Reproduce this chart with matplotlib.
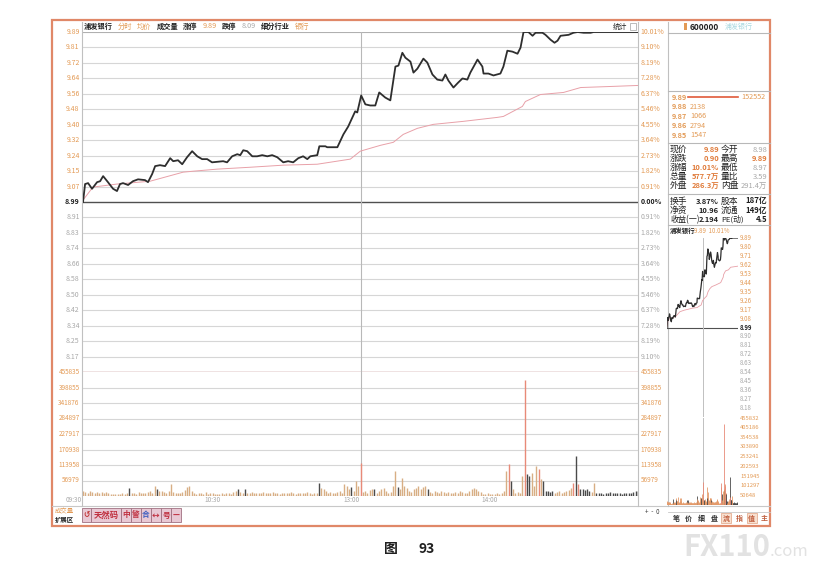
import numpy as np
import matplotlib.pyplot as plt
import matplotlib.patches as patches

plt.rcParams['font.family'] = ['Noto Sans CJK SC', 'DejaVu Sans']

W, H = 822, 567

# ---------------- data ----------------
prev_close = 8.99
limit_up = 9.89
limit_down = 8.09

# price line vertices (minute from 09:30, price)
price_min = [0, 0.9, 2.2, 3.9, 6.1, 7.4, 8.7, 10.8, 13, 14.7, 16, 17.3, 19.5, 21.6, 23.8, 26.8,
             28.1, 29.9, 31.2, 33.3, 35.5, 37.7, 39, 41.1, 42.9, 45, 47.2, 49.4, 51.5, 53.7, 55.8,
             60.6, 62.3, 64.5, 66.7, 68, 69.3, 71, 73.2, 75.3, 77.5, 79.7, 81.8, 84, 86.6, 88.7,
             90.9, 93.1, 95.2, 97, 98.3, 101.3, 102.2, 104.8, 105.6, 110, 112.6, 114.7, 116.5,
             117.7, 118.6, 120.3, 122.1, 124.2, 126.4, 128.1, 130.7, 132.9, 135.1, 136.4, 138.1,
             139.4, 141.6, 142.9, 144.6, 147.2, 148.9, 151.1, 153.2, 155.4, 156.7, 158, 160.2,
             162.3, 164.1, 166.2, 167.5, 170.6, 172.7, 173.2, 175.3, 177.5, 180.5, 181.8, 183.5,
             185.7, 187.9, 189.2, 190.5, 192.6, 194.4, 195.7, 198.7, 200, 202.2, 203.9, 205.2,
             206.5, 210, 212.1, 213.9, 216.5, 219.5, 220.8, 240]
price_val = [8.99, 9.085, 9.09, 9.06, 9.095, 9.10, 9.127, 9.095, 9.06, 9.048, 9.085, 9.09, 9.08,
             9.10, 9.11, 9.106, 9.095, 9.138, 9.18, 9.185, 9.18, 9.222, 9.206, 9.211, 9.19, 9.227,
             9.259, 9.232, 9.217, 9.217, 9.20, 9.206, 9.20, 9.232, 9.243, 9.238, 9.264, 9.259,
             9.232, 9.232, 9.238, 9.232, 9.238, 9.227, 9.20, 9.206, 9.20, 9.222, 9.232, 9.217,
             9.232, 9.238, 9.285, 9.285, 9.28, 9.28, 9.348, 9.39, 9.438, 9.47, 9.464, 9.554,
             9.507, 9.501, 9.501, 9.57, 9.543, 9.528, 9.707, 9.712, 9.78, 9.754, 9.733, 9.675,
             9.696, 9.749, 9.728, 9.665, 9.638, 9.633, 9.665, 9.633, 9.596, 9.623, 9.644, 9.638,
             9.675, 9.744, 9.707, 9.67, 9.67, 9.66, 9.67, 9.707, 9.791, 9.786, 9.775, 9.807,
             9.89, 9.89, 9.87, 9.886, 9.886, 9.875, 9.849, 9.833, 9.844, 9.87, 9.875, 9.886,
             9.89, 9.886, 9.886, 9.89, 9.89]

# average price line vertices
avg_min = [0, 4.3, 14.7, 29, 43.3, 47.6, 58, 72.3, 86.6, 101.3, 115.6, 119.9, 128.6, 134.2,
           138.5, 144.6, 151.5, 164.5, 179.2, 181.8, 190, 191.3, 197.8, 207.8, 215.2, 226.8, 240]
avg_val = [9.00, 9.069, 9.085, 9.10, 9.148, 9.153, 9.164, 9.174, 9.185, 9.19, 9.217, 9.259,
           9.29, 9.306, 9.348, 9.38, 9.401, 9.417, 9.438, 9.443, 9.496, 9.522, 9.559, 9.57,
           9.596, 9.601, 9.607]

# per-minute volume
volume = [18400, 14700, 12300, 17200, 14700, 9800, 14700, 12300, 15900, 12300,
          14700, 12300, 7400, 6100, 6100, 7400, 6100, 9800, 7400, 9800,
          30600, 9800, 12300, 7400, 14700, 12300, 9800, 12300, 14700, 17200,
          12300, 36800, 27000, 18400, 18400, 14700, 12300, 17200, 42900, 14700,
          12300, 9800, 12300, 14700, 22100, 34300, 36800, 18400, 9800, 7400,
          12300, 9800, 7400, 14700, 7400, 9800, 12300, 6100, 8600, 7400,
          9800, 7400, 12300, 9800, 7400, 14700, 18400, 24500, 14700, 12300,
          24500, 12300, 9800, 14700, 12300, 9800, 12300, 9800, 14700, 12300,
          9800, 12300, 14700, 12300, 9800, 7400, 12300, 9800, 9800, 12300,
          14700, 9800, 7400, 12300, 9800, 9800, 12300, 14700, 9800, 7400,
          12300, 9800, 49000, 30600, 24500, 18400, 12300, 14700, 9800, 12300,
          14700, 18400, 12300, 42900, 36800, 24500, 34300, 18400, 55100, 36800,
          122500, 14700, 18400, 12300, 22100, 24500, 27000, 12300, 18400, 24500,
          30600, 18400, 12300, 14700, 36800, 91900, 34300, 24500, 67400, 36800,
          30600, 18400, 14700, 24500, 30600, 36800, 27000, 34300, 36800, 27000,
          14700, 12300, 18400, 14700, 12300, 17200, 14700, 12300, 14700, 9800,
          12300, 14700, 12300, 17200, 14700, 9800, 12300, 18400, 24500, 30600,
          27000, 18400, 14700, 7400, 6100, 9800, 7400, 6100, 7400, 9800,
          8600, 12300, 18400, 91900, 116400, 55100, 24500, 12300, 14700, 9800,
          73500, 426300, 79600, 73500, 85800, 36800, 110300, 98000, 61300, 55100,
          18400, 18400, 14700, 18400, 12300, 14700, 18400, 12300, 14700, 18400,
          22100, 30600, 49000, 147000, 42900, 24500, 27000, 22100, 24500, 18400,
          14700, 49000, 9800, 12300, 9800, 7400, 12300, 9800, 14700, 9800,
          12300, 9800, 9800, 7400, 12300, 9800, 9800, 12300, 14700, 18400, 18400]
down_bars = [20, 32, 67, 70, 102, 116, 126, 136, 149, 185, 192, 193, 199, 200, 201, 202, 203,
             213, 215, 216, 217, 218, 219] + list(range(222, 241))
red_bars = [120, 184, 191, 197, 212, 214]

left_labels = ['9.89', '9.81', '9.72', '9.64', '9.56', '9.48', '9.40', '9.32', '9.24', '9.15',
               '9.07', '8.99', '8.91', '8.83', '8.74', '8.66', '8.58', '8.50', '8.42', '8.34',
               '8.25', '8.17']
right_labels = ['10.01%', '9.10%', '8.19%', '7.28%', '6.37%', '5.46%', '4.55%', '3.64%', '2.73%',
                '1.82%', '0.91%', '0.00%', '0.91%', '1.82%', '2.73%', '3.64%', '4.55%', '5.46%',
                '6.37%', '7.28%', '8.19%', '9.10%']
vol_labels = ['455835', '398855', '341876', '284897', '227917', '170938', '113958', '56979']
time_labels = ['09:30', '10:30', '13:00', '14:00']
time_pos = [0, 60, 120, 180]

mini_labels = ['9.89', '9.80', '9.71', '9.62', '9.53', '9.44', '9.35', '9.26', '9.17', '9.08',
               '8.99', '8.90', '8.81', '8.72', '8.63', '8.54', '8.45', '8.36', '8.27', '8.18']
mini_vol_labels = ['455832', '405186', '354538', '303890', '253241', '202593', '151945',
                   '101297', '50648']

book_prices = ['9.89', '9.88', '9.87', '9.86', '9.85']
book_sizes = ['152552', '2138', '1066', '2794', '1547']
quote_rows = [('现价', '9.89', '今开', '8.98'),
              ('涨跌', '0.90', '最高', '9.89'),
              ('涨幅', '10.01%', '最低', '8.97'),
              ('总量', '577.7万', '量比', '3.59'),
              ('外盘', '286.3万', '内盘', '291.4万')]
info_rows = [('换手', '3.87%', '股本', '187亿'),
             ('净资', '10.96', '流通', '149亿'),
             ('收益(一)', '2.194', 'PE(动)', '4.5')]

ORANGE = '#e39a55'
GREY_TXT = '#a8a8a8'
GRID = '#d6d6d6'
FRAME = '#e08868'


def rect(x0, y0, x1, y1):
    return [x0 / W, 1 - y1 / H, (x1 - x0) / W, (y1 - y0) / H]


def bare(ax):
    ax.set_xticks([])
    ax.set_yticks([])
    for s in ax.spines.values():
        s.set_visible(False)
    ax.patch.set_alpha(0)


fig = plt.figure(figsize=(W / 100, H / 100), dpi=100)

# background axes in pixel coordinates
bg = fig.add_axes([0, 0, 1, 1])
bg.set_xlim(0, W)
bg.set_ylim(H, 0)
bare(bg)

# outer frame
bg.add_patch(patches.Rectangle((52, 20), 718, 506, fill=False, ec=FRAME, lw=1.6))
bg.plot([52, 770], [506, 506], color='#c8c8c8', lw=0.8)
for x in [82, 638, 668]:
    bg.plot([x, x], [22, 506], color='#c0c0c0', lw=0.8)

# ---------------- main price panel ----------------
ax_p = fig.add_axes(rect(83, 32, 638, 372))
bare(ax_p)
ax_p.set_xlim(0, 240)
ax_p.set_ylim(limit_down, limit_up)
price_lines = np.linspace(limit_up, limit_down, 23)
for i, v in enumerate(price_lines):
    if i == 11:
        ax_p.axhline(v, color='#505050', lw=1.0)
    elif i == 22:
        ax_p.axhline(v, color='#b07070', lw=1.0)
    elif i == 0:
        ax_p.axhline(v, color='#b0b0b0', lw=0.8)
    else:
        ax_p.axhline(v, color=GRID, lw=0.8)
ax_p.axvline(120, color='#b8b8b8', lw=0.8)

ax_p.plot(avg_min, avg_val, color='#e8a0a8', lw=0.7)
ax_p.plot(price_min, price_val, color='#2e2e2e', lw=1.3)

yt = ax_p.get_yaxis_transform()
for i, lab in enumerate(left_labels):
    c = ORANGE if i < 11 else ('#202020' if i == 11 else GREY_TXT)
    ax_p.text(-0.006, price_lines[i], lab, transform=yt, ha='right', va='center',
              fontsize=5, color=c, fontweight='bold' if i == 11 else 'normal')
for i, lab in enumerate(right_labels):
    c = ORANGE if i < 11 else ('#202020' if i == 11 else GREY_TXT)
    ax_p.text(1.005, price_lines[i], lab, transform=yt, ha='left', va='center',
              fontsize=5, color=c, fontweight='bold' if i == 11 else 'normal')

# ---------------- main volume panel ----------------
ax_v = fig.add_axes(rect(83, 372, 638, 496))
bare(ax_v)
ax_v.set_xlim(0, 240)
vol_top = 455835
ax_v.set_ylim(0, vol_top)
vol_lines = np.linspace(vol_top, 0, 9)
for i, v in enumerate(vol_lines):
    if i == 0:
        continue
    ax_v.axhline(v, color='#c8c8c8' if i == 8 else GRID, lw=0.8)
ax_v.axvline(120, color='#b8b8b8', lw=0.8)

minutes = np.arange(len(volume))
colors = []
for m in minutes:
    if m in red_bars:
        colors.append('#e88a78')
    elif m in down_bars:
        colors.append('#4a4a4a')
    else:
        colors.append('#d8ae84')
ax_v.vlines(minutes, 0, volume, colors=colors, lw=1.0)

yv = ax_v.get_yaxis_transform()
for i, lab in enumerate(vol_labels):
    ax_v.text(-0.006, vol_lines[i], lab, transform=yv, ha='right', va='center',
              fontsize=4.6, color=ORANGE)
    ax_v.text(1.005, vol_lines[i], lab, transform=yv, ha='left', va='center',
              fontsize=4.6, color=ORANGE)
for lab, t in zip(time_labels, time_pos):
    ax_v.text(t - 4, -0.035, lab, transform=ax_v.get_xaxis_transform(), ha='center',
              va='center', fontsize=4.6, color=GREY_TXT)

# header line of the main chart
hx = 84
for txt, col, wt in [('浦发银行', '#202020', 'bold'), ('分时', ORANGE, 'normal'),
                     ('均价', ORANGE, 'normal'), ('成交量', '#202020', 'bold'),
                     ('涨停', '#202020', 'bold'), ('9.89', ORANGE, 'normal'),
                     ('跌停', '#202020', 'bold'), ('8.09', GREY_TXT, 'normal'),
                     ('细分行业', '#202020', 'bold'), ('银行', ORANGE, 'normal')]:
    t = bg.text(hx, 26.5, txt, fontsize=5.2, color=col, fontweight=wt, ha='left', va='center')
    n = sum(2 if ord(ch) > 255 else 1 for ch in txt)
    hx += n * 3.6 + 5
bg.text(613, 27, '统计', fontsize=5.2, color='#202020', ha='left', va='center')
bg.add_patch(patches.Rectangle((630, 23), 6, 7, fill=False, ec='#b0b0b0', lw=0.6))

# ---------------- right info panel ----------------
bg.add_patch(patches.Rectangle((684, 23), 3, 7, color=ORANGE, lw=0))
bg.text(690, 27, '600000', fontsize=6, fontweight='bold', color='#202020', va='center')
bg.text(725, 27, '浦发银行', fontsize=5, color='#a8d8e0', va='center')
for y in [33, 91, 143, 194, 225]:
    bg.plot([668, 770], [y, y], color='#b8b8b8', lw=0.8)

for i, (p, s) in enumerate(zip(book_prices, book_sizes)):
    y = 97 + i * 9.6
    bg.text(672, y, p, fontsize=5.2, color=ORANGE, fontweight='bold', va='center')
    bg.text(690 if i else 741, y, s, fontsize=5.2, color=ORANGE, va='center')
bg.plot([688, 738], [97, 97], color='#e05a3a', lw=1.2)

for i, (a, b, c, d) in enumerate(quote_rows):
    y = 149.5 + i * 9.1
    bg.text(670, y, a, fontsize=6.3, color='#202020', va='center')
    bg.text(719, y, b, fontsize=5.4, color='#e07b3a', fontweight='bold', va='center', ha='right')
    bg.text(721, y, c, fontsize=6.3, color='#202020', va='center')
    bg.text(767, y, d, fontsize=5.4, color=GREY_TXT if i != 1 else '#e07b3a', va='center',
            ha='right', fontweight='bold' if i == 1 else 'normal')
for i, (a, b, c, d) in enumerate(info_rows):
    y = 201 + i * 9.4
    bg.text(670, y, a, fontsize=6.3 if i < 2 else 5.8, color='#202020', va='center')
    bg.text(719, y, b, fontsize=5.4, color='#202020', fontweight='bold', va='center', ha='right')
    bg.text(721, y, c, fontsize=6.3 if i < 2 else 5.6, color='#202020', va='center')
    bg.text(767, y, d, fontsize=5.6, color='#202020', fontweight='bold', va='center', ha='right')
bg.text(670, 231, '浦发银行', fontsize=4.6, color='#202020', fontweight='bold', va='center')
bg.text(694, 231, '9.89  10.01%', fontsize=4.4, color=ORANGE, va='center')

# mini chart
ax_mp = fig.add_axes(rect(667, 238, 738, 417))
bare(ax_mp)
ax_mp.set_xlim(0, 240)
ax_mp.set_ylim(limit_down, limit_up)
ax_mp.axhline(prev_close, color='#505050', lw=0.8)
ax_mp.axhline(limit_down, color='#c0c0c0', lw=0.7)
ax_mp.axvline(120, color='#c0c0c0', lw=0.7)
ax_mp.plot(avg_min, avg_val, color='#e8a0a8', lw=0.6)
ax_mp.plot(price_min, price_val, color='#2e2e2e', lw=0.9)
mini_lines = np.linspace(limit_up, limit_down, 21)
ym = ax_mp.get_yaxis_transform()
for i, lab in enumerate(mini_labels):
    c = ORANGE if i < 10 else ('#202020' if i == 10 else GREY_TXT)
    ax_mp.text(1.03, mini_lines[i], lab, transform=ym, ha='left', va='center', fontsize=4.4,
               color=c, fontweight='bold' if i == 10 else 'normal')

ax_mv = fig.add_axes(rect(667, 418, 738, 505))
bare(ax_mv)
ax_mv.set_xlim(0, 240)
mini_top = 455832
ax_mv.set_ylim(0, mini_top)
ax_mv.axvline(120, color='#c0c0c0', lw=0.7)
ax_mv.vlines(minutes, 0, volume, colors=[c if c != '#d8ae84' else '#e49a6a' for c in colors],
             lw=0.6)
mini_vlines = np.linspace(mini_top, 0, 10)
ymv = ax_mv.get_yaxis_transform()
for i, lab in enumerate(mini_vol_labels):
    ax_mv.text(1.03, mini_vlines[i], lab, transform=ymv, ha='left', va='center',
               fontsize=4.2, color=ORANGE)

# bottom buttons of right panel
for i, ch in enumerate(['笔', '价', '细', '盘', '流', '指', '值', '主']):
    x = 676 + i * 12.6
    if ch in ['流', '值']:
        bg.add_patch(patches.Rectangle((x - 5, 513), 10, 10, fc='#f8e0d0', ec='#e0a080', lw=0.5))
    bg.text(x, 518.5, ch, fontsize=5, color='#303030' if i < 4 else '#c06040', ha='center',
            va='center', fontweight='bold')
bg.plot([668, 770], [512, 512], color='#c8c8c8', lw=0.6)
bg.text(645, 512, '+  -  0', fontsize=4.5, color='#404040', va='center')

# bottom-left tabs
bg.text(55, 511, '成交量', fontsize=4.6, color=ORANGE, va='center')
bg.text(55, 519.5, '扩展区', fontsize=4.6, color='#202020', fontweight='bold', va='center')
bx = 82
for ch, wdt, col in [('↺', 9, '#c03030'), ('天然码', 30, '#c03040'), ('中', 10, '#c03040'),
                     ('警', 10, '#c03040'), ('合', 10, '#4060c0'), ('↔', 10, '#c03040'),
                     ('号', 10, '#c03040'), ('—', 10, '#c03040')]:
    bg.add_patch(patches.Rectangle((bx, 508), wdt, 14, fc='#e8c8d4', ec='#a07080', lw=0.6))
    bg.text(bx + wdt / 2, 515, ch, fontsize=6 if len(ch) > 1 else 5.5, color=col,
            ha='center', va='center', fontweight='bold')
    bx += wdt

# caption and watermark
bg.text(391, 549, '图', fontsize=10, fontweight='bold', ha='center', va='center', color='#202020')
bg.text(427, 549, '93', fontsize=10, fontweight='bold', ha='center', va='center', color='#202020')
bg.text(683, 556, 'FX110', fontsize=21, fontweight='bold', color='#e2e2e2', ha='left',
        va='baseline')
bg.text(770, 556, '.com', fontsize=12, color='#e2e2e2', ha='left', va='baseline')

fig.savefig('out.png', dpi=100)
